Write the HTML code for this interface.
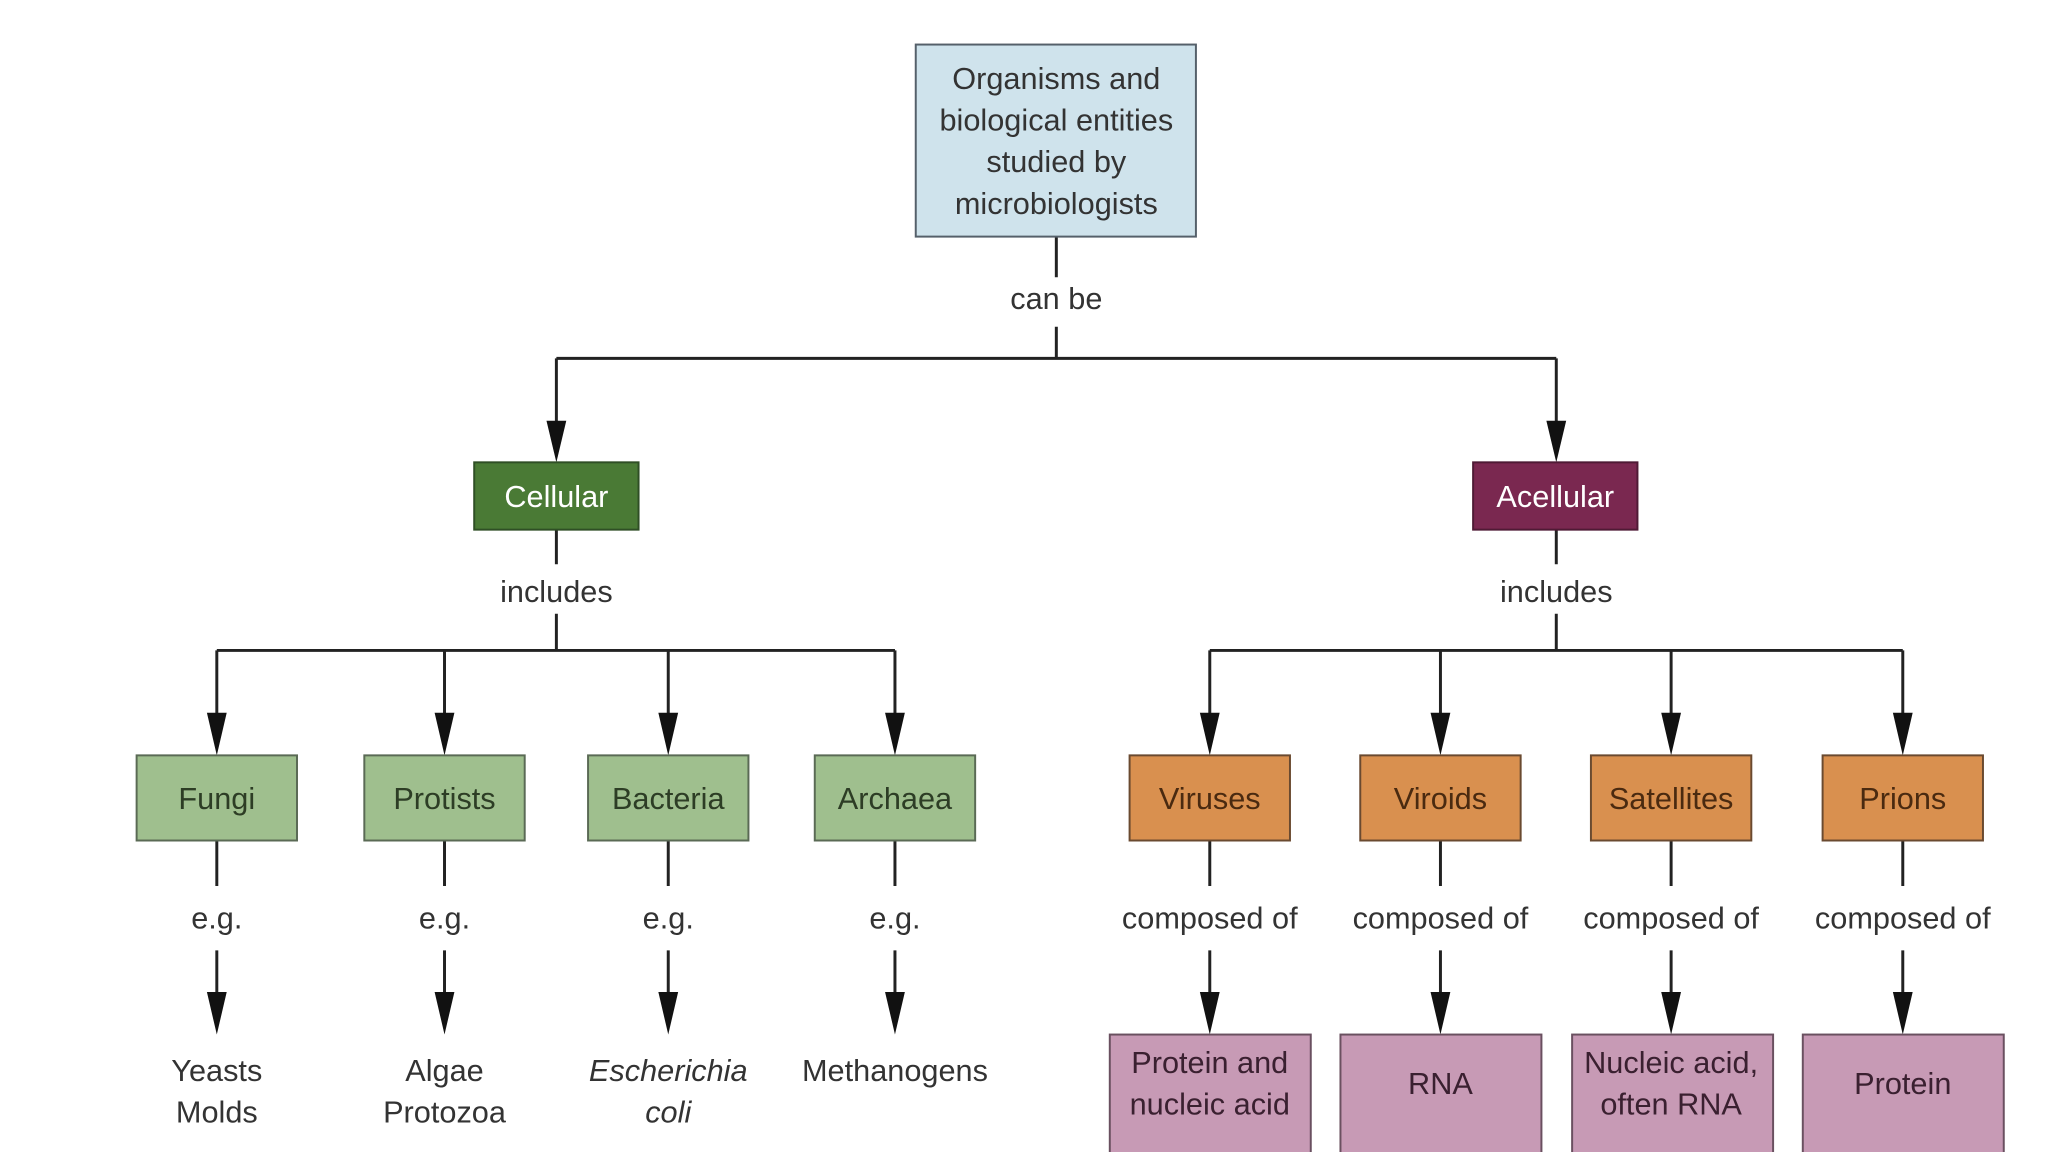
<!DOCTYPE html>
<html><head><meta charset="utf-8"><style>html,body{margin:0;padding:0;background:#fff}svg{display:block}</style></head>
<body>
<svg width="2048" height="1152" viewBox="0 0 2048 1152" xmlns="http://www.w3.org/2000/svg" font-family="Liberation Sans, sans-serif" font-size="31" text-anchor="middle">
<g transform="scale(0.99)">
<g stroke="#222" stroke-width="3" fill="none">
<path d="M1067 239V280M1067 330V362M562 362H1572M562 362V440M1572 362V440"/>
<path d="M562 535V570M562 620V657M1572 535V570M1572 620V657"/>
<path d="M219 657H904M219 657V735M449 657V735M675 657V735M904 657V735"/>
<path d="M1222 657H1922M1222 657V735M1455 657V735M1688 657V735M1922 657V735"/>
<path d="M219 849V895M449 849V895M675 849V895M904 849V895M1222 849V895M1455 849V895M1688 849V895M1922 849V895"/>
<path d="M219 960V1020M449 960V1020M675 960V1020M904 960V1020M1222 960V1020M1455 960V1020M1688 960V1020M1922 960V1020"/>
</g>
<g fill="#111">
<path d="M552 425L562 467L572 425Z"/><path d="M1562 425L1572 467L1582 425Z"/>
<path d="M209 720L219 763L229 720Z"/><path d="M439 720L449 763L459 720Z"/><path d="M665 720L675 763L685 720Z"/><path d="M894 720L904 763L914 720Z"/>
<path d="M1212 720L1222 763L1232 720Z"/><path d="M1445 720L1455 763L1465 720Z"/><path d="M1678 720L1688 763L1698 720Z"/><path d="M1912 720L1922 763L1932 720Z"/>
<path d="M209 1002L219 1045L229 1002Z"/><path d="M439 1002L449 1045L459 1002Z"/><path d="M665 1002L675 1045L685 1002Z"/><path d="M894 1002L904 1045L914 1002Z"/>
<path d="M1212 1002L1222 1045L1232 1002Z"/><path d="M1445 1002L1455 1045L1465 1002Z"/><path d="M1678 1002L1688 1045L1698 1002Z"/><path d="M1912 1002L1922 1045L1932 1002Z"/>
</g>
<rect x="925" y="45" width="283" height="194" fill="#cfe3ec" stroke="#55606a" stroke-width="2"/>
<g fill="#333"><text x="1067" y="90">Organisms and</text><text x="1067" y="132">biological entities</text><text x="1067" y="174">studied by</text><text x="1067" y="216">microbiologists</text>
<text x="1067" y="312">can be</text><text x="562" y="608">includes</text><text x="1572" y="608">includes</text></g>
<rect x="479" y="467" width="166" height="68" fill="#4a7a35" stroke="#2f4f25" stroke-width="2"/>
<rect x="1488" y="467" width="166" height="68" fill="#7a2850" stroke="#4f1a35" stroke-width="2"/>
<g fill="#fff"><text x="562" y="512">Cellular</text><text x="1571" y="512">Acellular</text></g>
<g fill="#9fbf8e" stroke="#5a6a55" stroke-width="2">
<rect x="138" y="763" width="162" height="86"/><rect x="368" y="763" width="162" height="86"/><rect x="594" y="763" width="162" height="86"/><rect x="823" y="763" width="162" height="86"/></g>
<g fill="#d9904f" stroke="#6a4a30" stroke-width="2">
<rect x="1141" y="763" width="162" height="86"/><rect x="1374" y="763" width="162" height="86"/><rect x="1607" y="763" width="162" height="86"/><rect x="1841" y="763" width="162" height="86"/></g>
<g fill="#c79ab5" stroke="#6a5060" stroke-width="2">
<rect x="1121" y="1045" width="203" height="120"/><rect x="1354" y="1045" width="203" height="120"/><rect x="1588" y="1045" width="203" height="120"/><rect x="1821" y="1045" width="203" height="120"/></g>
<g fill="#2d3d25"><text x="219" y="817">Fungi</text><text x="449" y="817">Protists</text><text x="675" y="817">Bacteria</text><text x="904" y="817">Archaea</text></g>
<g fill="#4a2a10"><text x="1222" y="817">Viruses</text><text x="1455" y="817">Viroids</text><text x="1688" y="817">Satellites</text><text x="1922" y="817">Prions</text></g>
<g fill="#333">
<text x="219" y="938">e.g.</text><text x="449" y="938">e.g.</text><text x="675" y="938">e.g.</text><text x="904" y="938">e.g.</text>
<text x="1222" y="938">composed of</text><text x="1455" y="938">composed of</text><text x="1688" y="938">composed of</text><text x="1922" y="938">composed of</text>
<text x="219" y="1092">Yeasts</text><text x="219" y="1134">Molds</text>
<text x="449" y="1092">Algae</text><text x="449" y="1134">Protozoa</text>
<text x="675" y="1092" font-style="italic">Escherichia</text><text x="675" y="1134" font-style="italic">coli</text>
<text x="904" y="1092">Methanogens</text>
</g>
<g fill="#3a2030">
<text x="1222" y="1084">Protein and</text><text x="1222" y="1126">nucleic acid</text>
<text x="1455" y="1105">RNA</text>
<text x="1688" y="1084">Nucleic acid,</text><text x="1688" y="1126">often RNA</text>
<text x="1922" y="1105">Protein</text>
</g>
</g>
</svg>
</body></html>
